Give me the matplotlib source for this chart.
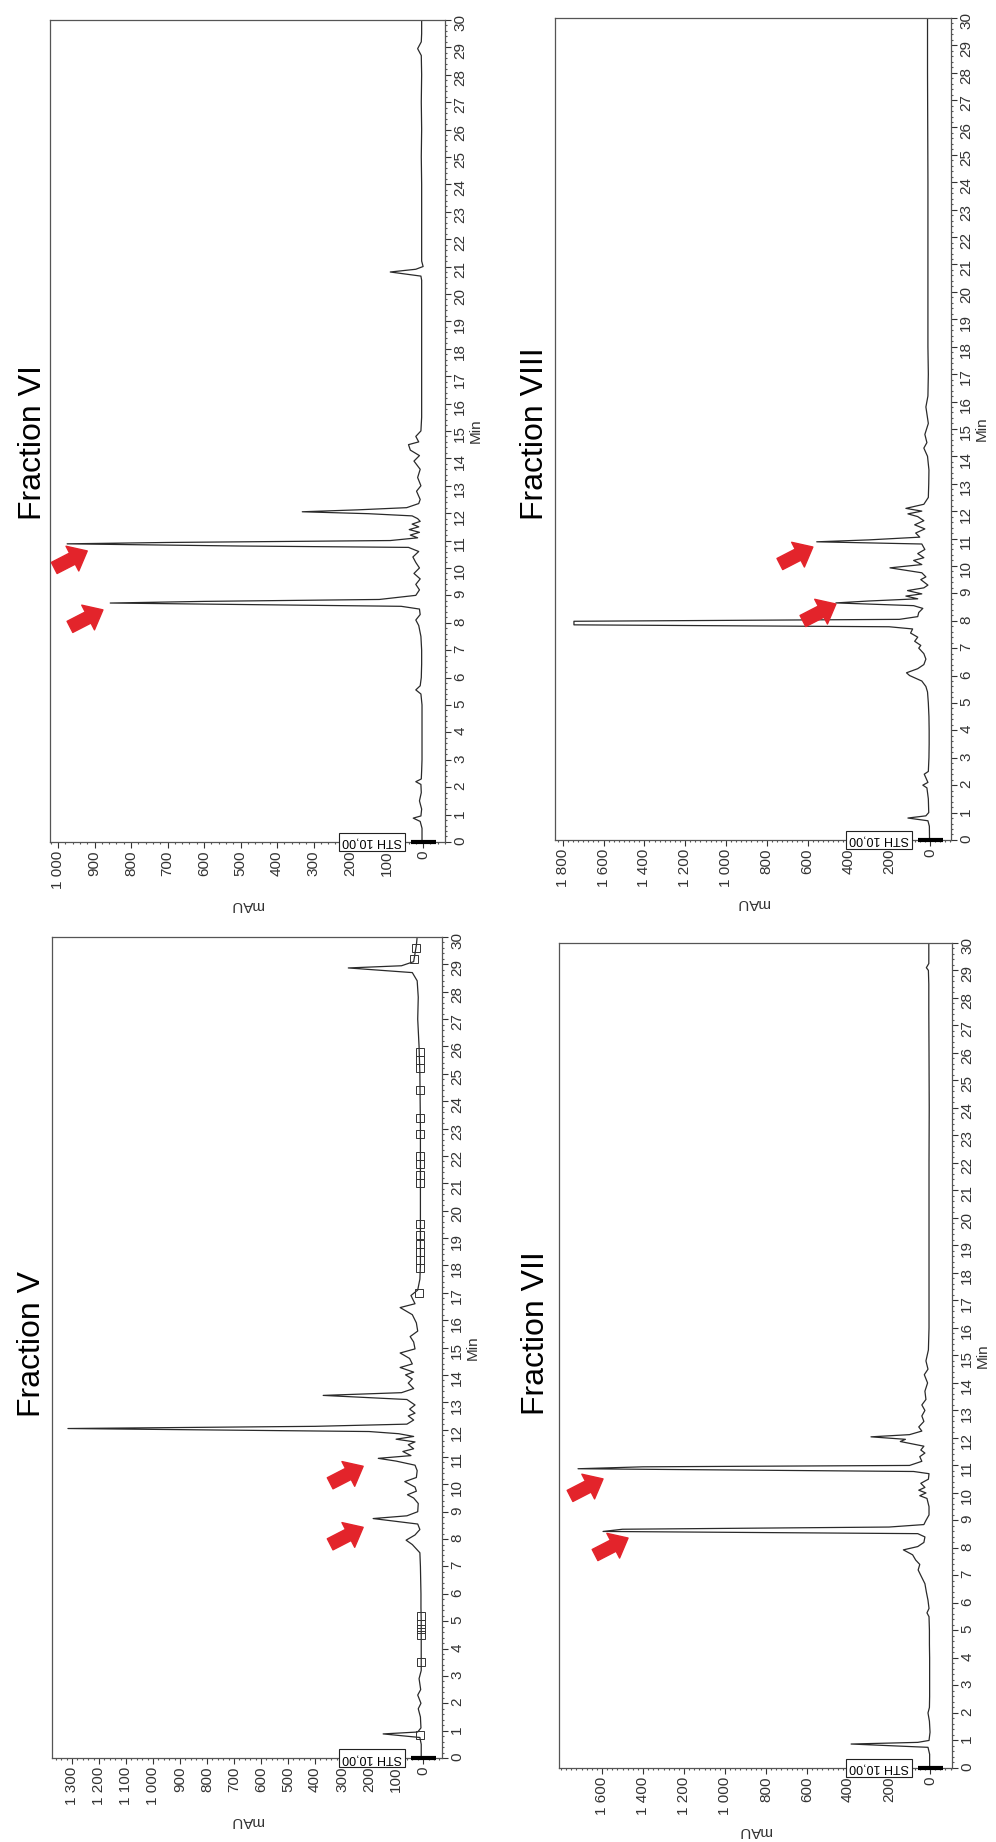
import matplotlib
matplotlib.use("Agg")
import matplotlib.pyplot as plt
from matplotlib.ticker import MultipleLocator, FuncFormatter

plt.rcParams['font.family'] = ['Liberation Sans', 'DejaVu Sans']

# ---- Fraction VI : retention time (min) / absorbance (mAU) ----
t_vi = [0.0, 0.5, 0.75, 0.87, 0.95, 1.2, 1.5, 1.8, 2.1, 2.2, 2.3, 2.6, 3.0, 3.5, 4.0,
        4.5, 5.0, 5.4, 5.55, 5.7, 6.0, 6.5, 7.0, 7.5, 7.9, 8.1, 8.3, 8.5, 8.6, 8.72,
        8.78, 8.85, 9.0, 9.2, 9.4, 9.6, 9.8, 10.0, 10.2, 10.4, 10.6, 10.75, 10.8, 10.88, 10.93,
        11.0, 11.1, 11.2, 11.3, 11.4, 11.5, 11.6, 11.7, 11.8, 11.9, 11.98, 12.05, 12.12, 12.2, 12.35,
        12.5, 12.8, 13.0, 13.3, 13.6, 13.9, 14.1, 14.3, 14.5, 14.6, 14.8, 15.0, 15.5, 16.0, 17.0,
        18.0, 19.0, 20.0, 20.5, 20.65, 20.8, 20.9, 21.0, 21.2, 22.0, 23.0, 24.0, 25.0, 26.0, 27.0,
        28.0, 28.7, 28.95, 29.2, 29.5, 30.0]
mau_vi = [3, 3, 8, 27, 6, 4, 10, 5, 6, 20, 5, 4, 3, 3, 3,
          3, 3, 6, 20, 8, 5, 4, 4, 6, 12, 20, 8, 10, 60, 857,
          600, 120, 20, 10, 20, 8, 25, 10, 20, 28, 12, 40, 500, 975, 700,
          90, 15, 35, 10, 38, 12, 30, 8, 15, 30, 150, 331, 180, 45, 12,
          8, 18, 6, 15, 8, 25, 10, 35, 40, 12, 20, 6, 4, 4, 4,
          4, 4, 4, 4, 6, 90, 20, 0, 4, 4, 4, 4, 5, 4, 5,
          4, 5, 15, 5, 4, 4]

# ---- Fraction VIII ----
t_viii = [0.0, 0.5, 0.7, 0.8, 0.88, 1.0, 1.5, 1.9, 2.0, 2.1, 2.4, 2.5, 3.0, 3.5, 4.0,
          4.5, 5.0, 5.4, 5.6, 5.8, 6.0, 6.1, 6.25, 6.4, 6.6, 6.8, 7.0, 7.1, 7.25, 7.4,
          7.55, 7.7, 7.78, 7.85, 7.98, 8.05, 8.15, 8.3, 8.45, 8.55, 8.65, 8.72, 8.8, 8.9, 8.98,
          9.1, 9.2, 9.3, 9.5, 9.6, 9.75, 9.93, 10.05, 10.2, 10.3, 10.45, 10.6, 10.8, 10.88, 10.95,
          11.05, 11.2, 11.35, 11.5, 11.65, 11.8, 11.9, 12.0, 12.1, 12.25, 12.5, 13.0, 13.5, 14.0, 14.3,
          14.5, 14.8, 15.2, 15.8, 16.2, 17.0, 18.0, 19.0, 20.0, 22.0, 24.0, 26.0, 28.0, 30.0]
mau_viii = [2, 3, 10, 108, 20, 6, 8, 15, 35, 10, 28, 8, 5, 4, 4,
            5, 8, 12, 20, 40, 100, 115, 60, 30, 20, 30, 55, 45, 75, 60,
            95, 85, 200, 1745, 1745, 150, 60, 55, 35, 80, 461, 300, 60, 118, 40,
            110, 30, 10, 45, 20, 40, 196, 40, 80, 30, 60, 25, 40, 555, 300,
            50, 70, 25, 75, 30, 60, 108, 40, 118, 30, 8, 6, 5, 12, 30,
            15, 25, 8, 20, 10, 8, 10, 10, 10, 10, 10, 11, 12, 12]

# ---- Fraction V ----
t_v = [0.0, 0.5, 0.75, 0.88, 0.95, 1.1, 1.5, 1.8, 2.0, 2.3, 2.5, 2.9, 3.2, 3.5, 4.0,
       4.5, 5.0, 5.5, 6.0, 6.5, 7.0, 7.5, 7.8, 7.96, 8.15, 8.35, 8.55, 8.75, 8.85, 9.0,
       9.3, 9.5, 9.62, 9.75, 9.9, 10.1, 10.25, 10.5, 10.7, 10.85, 10.95, 11.05, 11.2, 11.3, 11.45,
       11.55, 11.65, 11.75, 11.85, 11.93, 12.04, 12.12, 12.2, 12.35, 12.5, 12.6, 12.75, 12.9, 13.1, 13.25,
       13.35, 13.5, 13.7, 13.85, 14.0, 14.1, 14.27, 14.4, 14.6, 14.8, 14.95, 15.2, 15.4, 15.6, 15.9,
       16.2, 16.46, 16.6, 16.9, 17.1, 17.5, 18.0, 19.0, 20.0, 21.0, 22.0, 23.0, 24.0, 25.0, 26.0,
       27.0, 27.8, 28.4, 28.7, 28.87, 28.95, 29.1, 29.4, 29.7, 30.0]
mau_v = [7, 7, 12, 148, 20, 8, 10, 18, 8, 20, 9, 15, 7, 7, 7,
         7, 7, 8, 8, 9, 10, 12, 40, 63, 30, 12, 20, 185, 60, 20,
         18, 35, 58, 25, 30, 68, 25, 22, 30, 100, 166, 45, 75, 35, 55,
         30, 100, 35, 90, 200, 1315, 400, 60, 35, 55, 30, 50, 30, 60, 370,
         80, 35, 55, 40, 65, 35, 85, 40, 50, 85, 30, 35, 48, 20, 25,
         40, 85, 30, 45, 20, 12, 10, 10, 10, 10, 10, 10, 11, 12, 15,
         20, 18, 22, 40, 277, 80, 35, 30, 25, 22]
# integration event boxes on the baseline of Fraction V
box_t_v = [0.85, 3.5, 4.5, 4.7, 4.9, 5.2, 17.0, 17.9, 18.2, 18.5, 18.8, 19.1, 19.5,
           21.0, 21.3, 21.7, 22.0, 22.8, 23.4, 24.4, 25.2, 25.5, 25.8, 29.2, 29.6]
box_mau_v = [12, 8, 8, 8, 8, 8, 14, 10, 10, 10, 10, 10, 10,
             10, 10, 10, 10, 10, 10, 11, 12, 13, 13, 32, 26]

# ---- Fraction VII ----
t_vii = [0.0, 0.5, 0.75, 0.87, 0.93, 1.0, 1.3, 1.7, 2.0, 2.2, 2.6, 3.0, 3.5, 4.0, 4.5,
         5.0, 5.5, 5.64, 5.8, 6.1, 6.4, 6.7, 7.0, 7.2, 7.4, 7.56, 7.75, 7.93, 8.05, 8.2,
         8.4, 8.52, 8.6, 8.68, 8.76, 8.85, 9.0, 9.2, 9.5, 9.8, 9.9, 10.0, 10.1, 10.2, 10.35,
         10.5, 10.7, 10.78, 10.88, 10.95, 11.0, 11.15, 11.32, 11.45, 11.56, 11.7, 11.87, 11.95, 12.04, 12.12,
         12.25, 12.4, 12.6, 12.8, 13.0, 13.2, 13.4, 13.7, 14.0, 14.3, 14.5, 14.8, 15.2, 16.0, 17.0,
         18.0, 20.0, 22.0, 24.0, 26.0, 27.5, 28.5, 29.0, 29.1, 29.25, 30.0]
mau_vii = [2, 2, 10, 385, 60, 5, 0, 3, 10, 3, 2, 2, 2, 2, 3,
           3, 5, 15, 5, 10, 18, 25, 45, 58, 50, 70, 85, 130, 60, 30,
           25, 60, 1595, 1500, 200, 30, 20, 5, 5, 15, 50, 20, 55, 25, 45,
           8, 5, 80, 1717, 1400, 100, 40, 50, 25, 45, 30, 145, 120, 288, 100,
           40, 55, 30, 40, 25, 40, 20, 25, 12, 28, 10, 20, 8, 5, 5,
           5, 5, 5, 4, 5, 6, 6, 8, 18, 6, 6]

# red arrow tips (mAU, min) marking the two compounds of interest
arrows_vi = [(920, 10.62), (877, 8.47)]
arrows_viii = [(574, 10.69), (461, 8.61)]
arrows_v = [(222, 10.66), (222, 8.43)]
arrows_vii = [(1595, 10.51), (1473, 8.36)]


def thousands(v, pos):
    return f"{v:,.0f}".replace(",", " ")


fig = plt.figure(figsize=(9.96, 18.42), dpi=100)

panels = [
    dict(name='Fraction VI', t=t_vi, mau=mau_vi, arrows=arrows_vi,
         rect=[0.0502, 0.5429, 0.3966, 0.4463], xlim=(1022, -60),
         ticks=range(0, 1001, 100), minor=20, title_pos=(-0.043, 0.392)),
    dict(name='Fraction VIII', t=t_viii, mau=mau_viii, arrows=arrows_viii,
         rect=[0.5572, 0.5440, 0.3976, 0.4463], xlim=(1838, -103),
         ticks=range(0, 1801, 200), minor=25, title_pos=(-0.05, 0.389)),
    dict(name='Fraction V', t=t_v, mau=mau_v, arrows=arrows_v,
         rect=[0.0522, 0.0456, 0.3916, 0.4457], xlim=(1374, -70),
         ticks=range(0, 1301, 100), minor=20, title_pos=(-0.05, 0.415)),
    dict(name='Fraction VII', t=t_vii, mau=mau_vii, arrows=arrows_vii,
         rect=[0.5612, 0.0402, 0.3946, 0.4479], xlim=(1810, -107),
         ticks=range(0, 1601, 200), minor=25, title_pos=(-0.058, 0.428)),
]

for p in panels:
    ax = fig.add_axes(p['rect'])
    # chromatogram, drawn rotated: intensity horizontal (0 at right), time vertical
    ax.plot(p['mau'], p['t'], color='#2a2a2a', lw=0.9)
    if p['name'] == 'Fraction V':
        ax.plot(box_mau_v, box_t_v, ls='none', marker='s', ms=6, mfc='none',
                mec='#333333', mew=0.7)
    ax.set_xlim(*p['xlim'])
    ax.set_ylim(0, 30)

    ax.set_xticks(list(p['ticks']))
    ax.xaxis.set_major_formatter(FuncFormatter(thousands))
    ax.xaxis.set_minor_locator(MultipleLocator(p['minor']))
    ax.yaxis.tick_right()
    ax.yaxis.set_label_position('right')
    ax.set_yticks(range(0, 31))
    ax.yaxis.set_minor_locator(MultipleLocator(0.2))
    ax.tick_params(axis='both', which='major', labelrotation=90, labelsize=11,
                   length=4, width=0.8, pad=2, colors='#333333')
    ax.tick_params(axis='both', which='minor', length=1.5, width=0.8, colors='#555555')

    ax.set_xlabel('mAU', rotation=180, fontsize=11, labelpad=7, color='#333333')
    ax.set_ylabel('Min', rotation=90, fontsize=11, labelpad=1, color='#333333')
    for s in ax.spines.values():
        s.set_color('#555555')
        s.set_linewidth(0.9)

    ax.text(p['title_pos'][0], p['title_pos'][1], p['name'], transform=ax.transAxes,
            rotation=90, ha='center', va='bottom', fontsize=23)

    ax.annotate('STH 10,00', xy=(0, 0), xytext=(-51, 0), textcoords='offset pixels',
                rotation=180, ha='center', va='center', fontsize=9,
                bbox=dict(boxstyle='square,pad=0.25', fc='white', ec='#222222', lw=0.8),
                annotation_clip=False, zorder=5)
    ax.plot([0], [0], marker='_', ms=18, mew=3, color='black', clip_on=False, zorder=6)

    for mau, t in p['arrows']:
        ax.annotate('', xy=(mau, t), xytext=(-33, -17), textcoords='offset pixels',
                    arrowprops=dict(arrowstyle='simple,head_length=0.6,head_width=1.0,tail_width=0.45',
                                    mutation_scale=20, color='#e3242b', shrinkA=0, shrinkB=0))

fig.savefig('out.png', dpi=100)
